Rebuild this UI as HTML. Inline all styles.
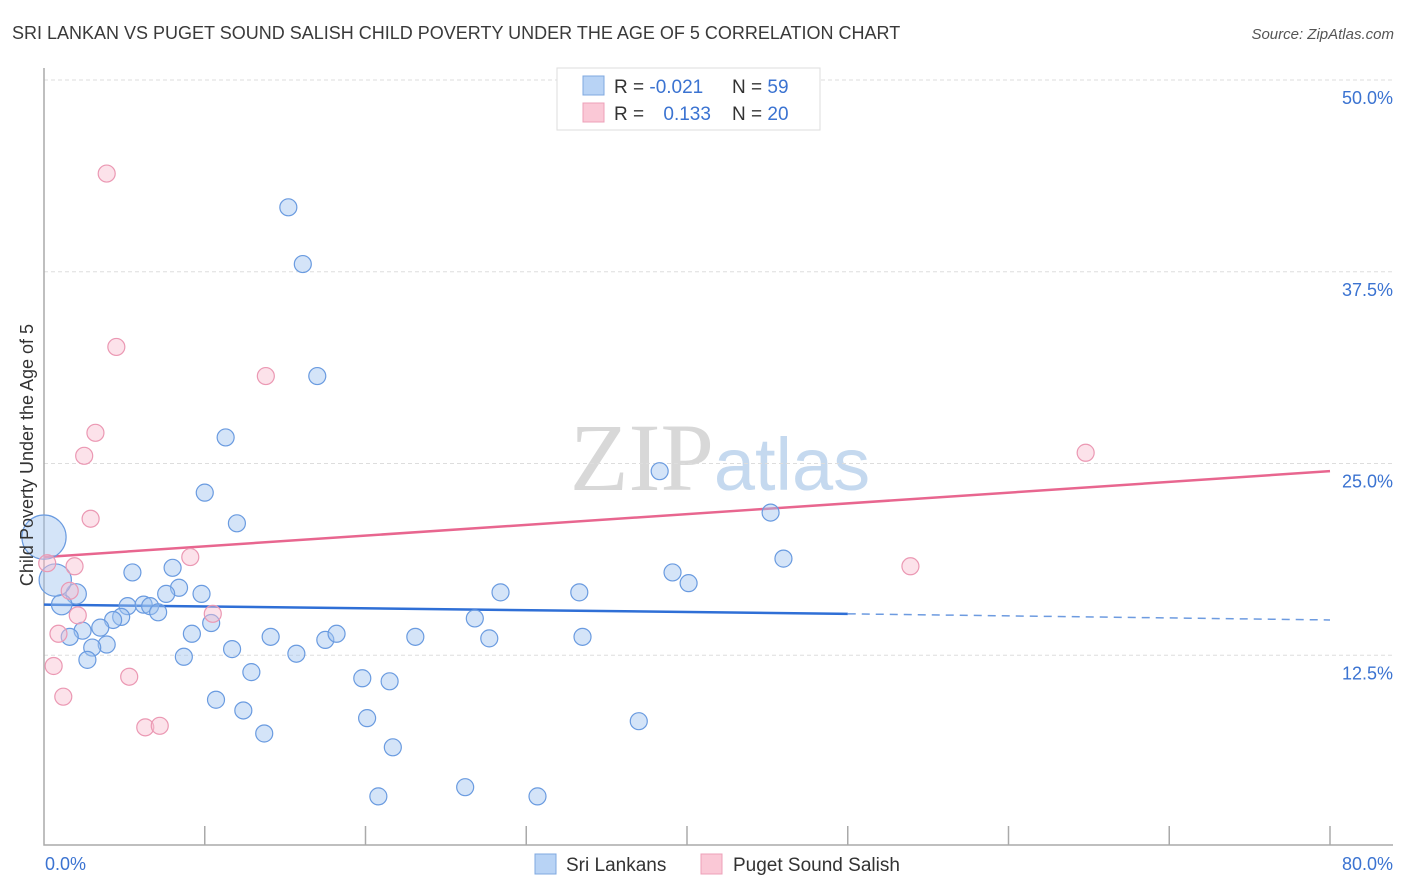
<!DOCTYPE html>
<html><head><meta charset="utf-8"><style>
body{margin:0;background:#fff;font-family:"Liberation Sans",sans-serif;}
svg{display:block}
</style></head><body>
<svg id="chart" width="1406" height="892" xmlns="http://www.w3.org/2000/svg">
<text x="12" y="39" font-size="18" fill="#3a3a3a">SRI LANKAN VS PUGET SOUND SALISH CHILD POVERTY UNDER THE AGE OF 5 CORRELATION CHART</text>
<text x="1394" y="39" font-size="15" fill="#555" font-style="italic" text-anchor="end">Source: ZipAtlas.com</text>
<text x="720" y="490" font-size="96" text-anchor="middle"><tspan font-family="Liberation Serif" fill="#d8d8d8">ZIP</tspan><tspan font-size="74" fill="#c5d9ef">atlas</tspan></text>
<g id="grid"></g>
<g id="axes"></g>
<g id="lines"></g>
<g id="points"></g>
<text transform="translate(33,455) rotate(-90)" font-size="18" fill="#333" text-anchor="middle">Child Poverty Under the Age of 5</text>
<text x="45" y="870" font-size="18" fill="#3b73d1">0.0%</text>
<text x="1393" y="870" font-size="18" fill="#3b73d1" text-anchor="end">80.0%</text>
<g>
<rect x="557" y="68" width="263" height="62" fill="#fff" stroke="#ddd"/>
<rect x="583" y="76" width="21" height="19" fill="#b8d3f5" stroke="#7fa8e0"/>
<rect x="583" y="103" width="21" height="19" fill="#fac8d6" stroke="#eda0b8"/>
<text x="614" y="93" font-size="19" fill="#333">R = <tspan fill="#3b73d1">-0.021</tspan></text>
<text x="732" y="93" font-size="19" fill="#333">N = <tspan fill="#3b73d1">59</tspan></text>
<text x="614" y="120" font-size="19" fill="#333">R = <tspan fill="#3b73d1" dx="14">0.133</tspan></text>
<text x="732" y="120" font-size="19" fill="#333">N = <tspan fill="#3b73d1">20</tspan></text>
</g>
<g>
<rect x="535" y="854" width="21" height="20" fill="#b8d3f5" stroke="#7fa8e0"/>
<text x="566" y="871" font-size="19" fill="#333">Sri Lankans</text>
<rect x="701" y="854" width="21" height="20" fill="#fac8d6" stroke="#eda0b8"/>
<text x="733" y="871" font-size="19" fill="#333">Puget Sound Salish</text>
</g>
</svg>
<script>
const yTicks=[12.5,25,37.5,50];
const yTickLabels=["12.5%","25.0%","37.5%","50.0%"];
const blueX=[15.2,16.1,17.0,11.3,10.0,12.0,38.3,45.2,46.0,39.1,40.1,28.4,33.3,5.5,8.0,8.4,7.6,9.8,2.0,1.1,5.2,6.2,6.6,7.1,4.8,4.3,10.4,3.5,2.4,1.6,3.9,3.0,2.7,9.2,8.7,11.7,14.1,15.7,17.5,18.2,23.1,26.8,27.7,33.5,12.9,19.8,21.5,10.7,12.4,20.1,37.0,13.7,21.7,20.8,26.2,30.7,0.7,0.0];
const blueY=[41.7,38.0,30.7,26.7,23.1,21.1,24.5,21.8,18.8,17.9,17.2,16.6,16.6,17.9,18.2,16.9,16.5,16.5,16.5,15.8,15.7,15.8,15.7,15.3,15.0,14.8,14.6,14.3,14.1,13.7,13.2,13.0,12.2,13.9,12.4,12.9,13.7,12.6,13.5,13.9,13.7,14.9,13.6,13.7,11.4,11.0,10.8,9.6,8.9,8.4,8.2,7.4,6.5,3.3,3.9,3.3,17.4,20.2];
const blueSize=[1,1,1,1,1,1,1,1,1,1,1,1,1,1,1,1,1,1,1.2,1.2,1,1,1,1,1,1,1,1,1,1,1,1,1,1,1,1,1,1,1,1,1,1,1,1,1,1,1,1,1,1,1,1,1,1,1,1,1.9,2.6];
const pinkX=[3.9,4.5,13.8,3.2,2.5,2.9,9.1,1.9,1.6,2.1,10.5,0.9,0.6,1.2,5.3,6.3,7.2,64.8,53.9,0.2];
const pinkY=[43.9,32.6,30.7,27.0,25.5,21.4,18.9,18.3,16.7,15.1,15.2,13.9,11.8,9.8,11.1,7.8,7.9,25.7,18.3,18.5];
const blueTrend=[15.8,15.2,14.8]; // at x=0, 50 (end solid), 80
const blueTrendX=[0,50,80];
const pinkTrend=[18.9,24.5];
const pinkTrendX=[0,80];
const NS="http://www.w3.org/2000/svg";
const X0=44,X1=1330,Y0=847,Y50=80;
function xs(v){return X0+(X1-X0)*v/80;}
function ys(v){return Y0-(Y0-Y50)*v/50;}
function mk(tag,attrs,parent){const e=document.createElementNS(NS,tag);for(const k in attrs)e.setAttribute(k,attrs[k]);document.getElementById(parent).appendChild(e);return e;}
yTicks.forEach((t,i)=>{
 const l=mk('line',{x1:X0,x2:1393,y1:ys(t),y2:ys(t),stroke:'#ddd','stroke-dasharray':'4,3'},'grid');
 
 
 const tx=mk('text',{x:1393,y:ys(t)+24,'font-size':18,fill:'#3b73d1','text-anchor':'end'},'grid');
 tx.textContent=yTickLabels[i];
 
 
});
const ax=mk('path',{d:`M${X0} 68 V845 H1393`,fill:'none',stroke:'#aaa','stroke-width':1.5},'axes');


for(let v=10;v<=80;v+=10){
 const t=mk('line',{x1:xs(v),x2:xs(v),y1:826,y2:845,stroke:'#aaa','stroke-width':1.5},'axes');
 
 
}
const pl=mk('line',{x1:xs(pinkTrendX[0]),y1:ys(pinkTrend[0]),x2:xs(pinkTrendX[1]),y2:ys(pinkTrend[1]),stroke:'#e8668f','stroke-width':2.5},'lines');


const bl=mk('line',{x1:xs(blueTrendX[0]),y1:ys(blueTrend[0]),x2:xs(blueTrendX[1]),y2:ys(blueTrend[1]),stroke:'#2f6fd6','stroke-width':2.5},'lines');


const bd=mk('line',{x1:xs(blueTrendX[1]),y1:ys(blueTrend[1]),x2:xs(blueTrendX[2]),y2:ys(blueTrend[2]),stroke:'#6d9be0','stroke-width':1.5,'stroke-dasharray':'8,6'},'lines');


blueX.forEach((x,i)=>{
 const c=mk('circle',{cx:xs(x),cy:ys(blueY[i]),r:8.5*blueSize[i],fill:'rgba(160,195,240,0.45)',stroke:'#6a9be0','stroke-width':1.2},'points');
 
 
});
pinkX.forEach((x,i)=>{
 const c=mk('circle',{cx:xs(x),cy:ys(pinkY[i]),r:8.5,fill:'rgba(248,190,208,0.45)',stroke:'#eb98b3','stroke-width':1.2},'points');
 
 
});
</script>
</body></html>
